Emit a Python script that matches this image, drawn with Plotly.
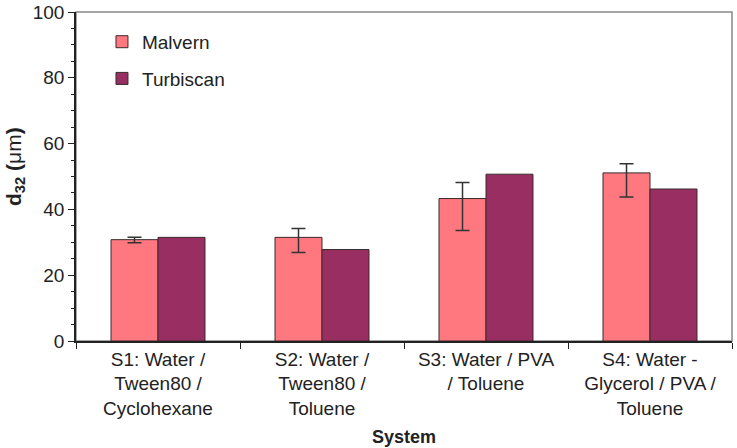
import plotly.graph_objects as go

categories = ["S1: Water /<br>Tween80 /<br>Cyclohexane",
              "S2: Water /<br>Tween80 /<br>Toluene",
              "S3: Water / PVA<br>/ Toluene",
              "S4: Water -<br>Glycerol / PVA /<br>Toluene"]
malvern = [30.8, 31.5, 43.3, 51.1]
malvern_err_plus = [0.7, 2.7, 4.9, 2.8]
malvern_err_minus = [0.9, 4.6, 9.7, 7.3]
turbiscan = [31.5, 27.8, 50.7, 46.2]

FONT = "Liberation Sans, Arial, sans-serif"
TXT = "#222222"

fig = go.Figure()
fig.add_trace(go.Bar(
    x=categories, y=malvern, name="Malvern", legendgroup="a",
    marker=dict(color="#FF7880", line=dict(color="#3a2a2a", width=1)),
    error_y=dict(type="data", symmetric=False, array=malvern_err_plus,
                 arrayminus=malvern_err_minus, color="#333333", thickness=1.5, width=7),
))
fig.add_trace(go.Bar(
    x=categories, y=turbiscan, name="Turbiscan", legendgroup="b",
    marker=dict(color="#992E62", line=dict(color="#3a2a2a", width=1)),
))

fig.update_layout(
    width=737, height=448,
    margin=dict(l=76, r=5, t=12, b=107),
    paper_bgcolor="white", plot_bgcolor="white",
    barmode="group", bargap=0.427, bargroupgap=0,
    font=dict(family=FONT, size=19, color=TXT),
    showlegend=True,
    legend=dict(x=0.0396, y=0.967, xanchor="left", yanchor="top",
                bgcolor="rgba(0,0,0,0)", font=dict(size=19, color=TXT),
                tracegroupgap=9),
    shapes=[dict(type="rect", xref="paper", yref="paper", x0=0, x1=1, y0=0, y1=1,
                 line=dict(color="#888888", width=1.5), layer="below")],
    annotations=[
        dict(text="<b>System</b>", xref="paper", yref="paper", x=0.5, y=-0.292,
             xanchor="center", yanchor="middle", showarrow=False,
             font=dict(size=18, color=TXT)),
        dict(text="<b>d<sub>32</sub> (</b>μm<b>)</b>", xref="paper", yref="paper",
             x=-0.094, y=0.53, xanchor="center", yanchor="middle", textangle=-90,
             showarrow=False, font=dict(size=21, color=TXT)),
    ],
)
fig.update_xaxes(
    automargin=False,
    showline=True, linecolor=TXT, linewidth=1.5,
    ticks="outside", ticklen=6, tickcolor=TXT, tickson="boundaries",
    tickfont=dict(size=19),
)
fig.update_yaxes(
    automargin=False,
    range=[0, 100], dtick=20, showgrid=False, zeroline=False,
    showline=True, linecolor=TXT, linewidth=1.5,
    ticks="outside", ticklen=6, tickcolor=TXT,
    minor=dict(dtick=5, ticks="outside", ticklen=3, tickcolor=TXT),
    tickfont=dict(size=19),
)

fig.write_html("out.html")
